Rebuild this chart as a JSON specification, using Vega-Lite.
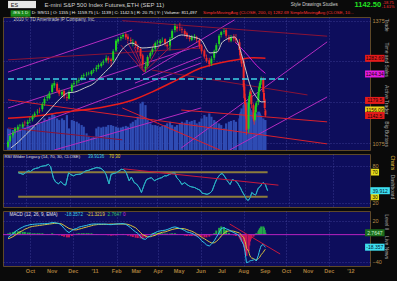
{
  "$schema": "https://vega.github.io/schema/vega-lite/v6.json",
  "background": "#0a0a0a",
  "padding": {"left": 2, "top": 0, "right": 1, "bottom": 8},
  "spacing": 2,
  "resolve": {"scale": {"fill": "independent", "stroke": "independent", "color": "independent"}},
  "config": {
    "font": "Liberation Sans",
    "view": {"stroke": "#5e4828", "strokeWidth": 1, "fill": "#0d0d5c"},
    "axis": {"labelFont": "Liberation Sans", "labelColor": "#b88e4a", "labelFontSize": 5.5, "ticks": false, "domain": false, "grid": true, "gridColor": "#45459c", "gridDash": [1, 2], "gridWidth": 0.8, "labelPadding": 2, "title": null}
  },
  "datasets": {
    "px": [
      {"d":"2010-08-30","o":1066,"h":1082,"l":1062,"c":1078,"v":1300,"m":-4.4,"s":-6,"hd":1.6},
      {"d":"2010-09-02","o":1080,"h":1095,"l":1076,"c":1092,"v":1250,"m":-2,"s":-5,"hd":3},
      {"d":"2010-09-06","o":1094,"h":1104,"l":1088,"c":1100,"v":1200,"m":1,"s":-3,"hd":4},
      {"d":"2010-09-09","o":1104,"h":1114,"l":1098,"c":1110,"v":1350,"m":4.5,"s":-1,"hd":5},
      {"d":"2010-09-13","o":1108,"h":1120,"l":1104,"c":1115,"v":1300,"m":7,"s":2,"hd":5},
      {"d":"2010-09-16","o":1117,"h":1122,"l":1110,"c":1118,"v":1250,"m":9,"s":4,"hd":5},
      {"d":"2010-09-20","o":1115,"h":1126,"l":1112,"c":1121,"v":1400,"r":69.2,"m":11,"s":6,"hd":4},
      {"d":"2010-09-23","o":1125,"h":1130,"l":1116,"c":1124,"v":1350,"r":68,"m":12.5,"s":8,"hd":4},
      {"d":"2010-09-27","o":1122,"h":1132,"l":1118,"c":1127,"v":1500,"r":66.5,"m":13.5,"s":9.5,"hd":3},
      {"d":"2010-09-30","o":1130,"h":1138,"l":1124,"c":1131,"v":1450,"r":69,"m":14.5,"s":11,"hd":3},
      {"d":"2010-10-04","o":1133,"h":1145,"l":1128,"c":1140,"v":1500,"r":72,"m":15,"s":12,"hd":2},
      {"d":"2010-10-07","o":1142,"h":1152,"l":1137,"c":1147,"v":1400,"r":71,"m":15.3,"s":12.5,"hd":2},
      {"d":"2010-10-11","o":1150,"h":1158,"l":1144,"c":1152,"v":1550,"r":74.6,"m":15.6,"s":13,"hd":2},
      {"d":"2010-10-14","o":1156,"h":1162,"l":1148,"c":1155,"v":1600,"r":76,"m":15.8,"s":13.5,"hd":2},
      {"d":"2010-10-18","o":1158,"h":1175,"l":1152,"c":1170,"v":1700,"r":77,"m":16,"s":14,"hd":2},
      {"d":"2010-10-21","o":1172,"h":1188,"l":1166,"c":1183,"v":1900,"r":79,"m":16,"s":14.5,"hd":1},
      {"d":"2010-10-25","o":1186,"h":1194,"l":1178,"c":1189,"v":1800,"r":80,"m":16.1,"s":15,"hd":1},
      {"d":"2010-10-28","o":1185,"h":1202,"l":1182,"c":1197,"v":2000,"r":80.5,"m":16.8,"s":15.5,"hd":1},
      {"d":"2010-11-01","o":1200,"h":1222,"l":1195,"c":1218,"v":2200,"r":82.7,"m":17.6,"s":16,"hd":2},
      {"d":"2010-11-04","o":1216,"h":1228,"l":1210,"c":1222,"v":2100,"r":79,"m":17.6,"s":16.5,"hd":1},
      {"d":"2010-11-08","o":1220,"h":1224,"l":1198,"c":1203,"v":1900,"r":60,"m":16.8,"s":16.6,"hd":-0.5},
      {"d":"2010-11-11","o":1205,"h":1210,"l":1190,"c":1196,"v":1800,"r":54,"m":16,"s":16.4,"hd":-1},
      {"d":"2010-11-15","o":1194,"h":1206,"l":1188,"c":1200,"v":1900,"r":51,"m":13,"s":15.5,"hd":-2},
      {"d":"2010-11-18","o":1203,"h":1205,"l":1184,"c":1190,"v":1800,"r":55,"m":9,"s":13.5,"hd":-3},
      {"d":"2010-11-22","o":1188,"h":1195,"l":1178,"c":1186,"v":2100,"r":50,"m":5,"s":11,"hd":-4},
      {"d":"2010-11-25","o":1184,"h":1204,"l":1182,"c":1200,"v":1300,"r":49,"m":3,"s":9,"hd":-4},
      {"d":"2010-11-29","o":1202,"h":1222,"l":1198,"c":1218,"v":1800,"r":69,"m":6,"s":8,"hd":-2},
      {"d":"2010-12-02","o":1220,"h":1228,"l":1212,"c":1222,"v":1750,"r":66,"m":8,"s":7,"hd":1},
      {"d":"2010-12-06","o":1224,"h":1230,"l":1216,"c":1226,"v":1700,"r":64,"m":9,"s":7,"hd":1.5},
      {"d":"2010-12-09","o":1228,"h":1235,"l":1222,"c":1230,"v":1600,"r":66,"m":11,"s":8,"hd":2},
      {"d":"2010-12-13","o":1232,"h":1242,"l":1228,"c":1237,"v":1500,"r":66.5,"m":12,"s":9,"hd":2},
      {"d":"2010-12-16","o":1240,"h":1246,"l":1234,"c":1242,"v":1400,"r":67,"m":12.7,"s":10,"hd":2},
      {"d":"2010-12-20","o":1243,"h":1249,"l":1238,"c":1244,"v":1000,"r":70,"m":13.5,"s":11,"hd":2},
      {"d":"2010-12-23","o":1246,"h":1250,"l":1241,"c":1247,"v":850,"r":72,"m":14.5,"s":12,"hd":2},
      {"d":"2010-12-27","o":1244,"h":1254,"l":1240,"c":1251,"v":750,"r":73,"m":15.3,"s":13,"hd":2},
      {"d":"2010-12-30","o":1252,"h":1258,"l":1247,"c":1254,"v":800,"r":74.6,"m":15.6,"s":14,"hd":1},
      {"d":"2011-01-03","o":1256,"h":1266,"l":1250,"c":1260,"v":1300,"r":76,"m":15.6,"s":14.5,"hd":1},
      {"d":"2011-01-06","o":1262,"h":1270,"l":1256,"c":1266,"v":1400,"r":77.3,"m":15.6,"s":15,"hd":0.5},
      {"d":"2011-01-10","o":1264,"h":1274,"l":1260,"c":1270,"v":1350,"r":77,"m":15.5,"s":15,"hd":0.3},
      {"d":"2011-01-13","o":1272,"h":1280,"l":1266,"c":1275,"v":1400,"r":76,"m":15.6,"s":15,"hd":0.3},
      {"d":"2011-01-17","o":1277,"h":1290,"l":1272,"c":1283,"v":1400,"r":72,"m":15.3,"s":15.2,"hd":-0.5},
      {"d":"2011-01-20","o":1284,"h":1288,"l":1270,"c":1278,"v":1500,"r":66,"m":14.8,"s":15.3,"hd":-1},
      {"d":"2011-01-24","o":1280,"h":1284,"l":1262,"c":1276,"v":1500,"r":51,"m":14.6,"s":15.5,"hd":-1.5},
      {"d":"2011-01-27","o":1278,"h":1305,"l":1274,"c":1300,"v":1450,"r":66.5,"m":15,"s":15.5,"hd":-1},
      {"d":"2011-01-31","o":1302,"h":1330,"l":1298,"c":1326,"v":1400,"r":68,"m":15.5,"s":15.5,"hd":-1},
      {"d":"2011-02-03","o":1324,"h":1335,"l":1318,"c":1330,"v":1350,"r":69,"m":15.8,"s":15.5,"hd":-0.5},
      {"d":"2011-02-07","o":1332,"h":1340,"l":1326,"c":1335,"v":1350,"r":72,"m":16,"s":15.5,"hd":0.5},
      {"d":"2011-02-10","o":1336,"h":1345,"l":1330,"c":1340,"v":1400,"r":74.6,"m":16.1,"s":15.5,"hd":1},
      {"d":"2011-02-14","o":1342,"h":1346,"l":1328,"c":1334,"v":1450,"r":74,"m":15,"s":15.5,"hd":-0.5},
      {"d":"2011-02-17","o":1336,"h":1342,"l":1324,"c":1330,"v":1400,"r":69,"m":13,"s":15,"hd":-1.5},
      {"d":"2011-02-21","o":1328,"h":1334,"l":1318,"c":1325,"v":1600,"r":56,"m":10,"s":13.5,"hd":-2.5},
      {"d":"2011-02-24","o":1320,"h":1330,"l":1312,"c":1322,"v":1700,"r":62,"m":7,"s":12,"hd":-3.5},
      {"d":"2011-02-28","o":1324,"h":1326,"l":1308,"c":1313,"v":1800,"r":53,"m":4,"s":10,"hd":-4.5},
      {"d":"2011-03-03","o":1310,"h":1318,"l":1298,"c":1305,"v":2000,"r":51,"m":2,"s":7,"hd":-5},
      {"d":"2011-03-07","o":1306,"h":1310,"l":1282,"c":1288,"v":2800,"r":45,"m":-3,"s":3,"hd":-5.5},
      {"d":"2011-03-10","o":1290,"h":1294,"l":1260,"c":1268,"v":2900,"r":37,"m":-6,"s":0,"hd":-6},
      {"d":"2011-03-14","o":1258,"h":1274,"l":1249,"c":1262,"v":2700,"r":50,"m":-6.9,"s":-2,"hd":-4.5},
      {"d":"2011-03-17","o":1264,"h":1290,"l":1260,"c":1286,"v":1800,"r":58,"m":-4,"s":-3,"hd":-1},
      {"d":"2011-03-21","o":1288,"h":1300,"l":1282,"c":1296,"v":1600,"r":60,"m":-2,"s":-3,"hd":1},
      {"d":"2011-03-24","o":1298,"h":1310,"l":1292,"c":1305,"v":1500,"r":61,"m":1,"s":-2,"hd":2},
      {"d":"2011-03-28","o":1306,"h":1324,"l":1300,"c":1320,"v":1500,"r":56,"m":3,"s":-1,"hd":2.5},
      {"d":"2011-03-31","o":1322,"h":1328,"l":1316,"c":1323,"v":1450,"r":58,"m":4.5,"s":1,"hd":2.5},
      {"d":"2011-04-04","o":1320,"h":1330,"l":1316,"c":1326,"v":1400,"r":60,"m":5.5,"s":2.5,"hd":2.5},
      {"d":"2011-04-07","o":1328,"h":1334,"l":1322,"c":1328,"v":1450,"r":61,"m":6,"s":3.5,"hd":2},
      {"d":"2011-04-11","o":1330,"h":1332,"l":1312,"c":1318,"v":1500,"r":64,"m":6.5,"s":4,"hd":1.5},
      {"d":"2011-04-14","o":1316,"h":1322,"l":1306,"c":1312,"v":1600,"r":64,"m":7.5,"s":5,"hd":1.5},
      {"d":"2011-04-18","o":1314,"h":1335,"l":1302,"c":1330,"v":1700,"r":66.5,"m":9,"s":6.5,"hd":1.5},
      {"d":"2011-04-21","o":1332,"h":1354,"l":1328,"c":1350,"v":1500,"r":68,"m":10.5,"s":7.5,"hd":2},
      {"d":"2011-04-25","o":1352,"h":1368,"l":1346,"c":1362,"v":1400,"r":69,"m":11.3,"s":8.5,"hd":2},
      {"d":"2011-04-28","o":1360,"h":1364,"l":1348,"c":1356,"v":1500,"r":61,"m":10.5,"s":9,"hd":1},
      {"d":"2011-05-02","o":1358,"h":1370,"l":1350,"c":1357,"v":1600,"r":56,"m":9,"s":9,"hd":-0.3},
      {"d":"2011-05-05","o":1354,"h":1360,"l":1344,"c":1352,"v":1700,"r":50,"m":8,"s":9,"hd":-0.5},
      {"d":"2011-05-09","o":1350,"h":1355,"l":1336,"c":1342,"v":1650,"r":53,"m":6,"s":8.5,"hd":-1.5},
      {"d":"2011-05-12","o":1344,"h":1348,"l":1330,"c":1335,"v":1800,"r":50,"m":4,"s":7.5,"hd":-2},
      {"d":"2011-05-16","o":1334,"h":1340,"l":1324,"c":1330,"v":1700,"r":47,"m":3,"s":6,"hd":-2},
      {"d":"2011-05-19","o":1328,"h":1340,"l":1325,"c":1335,"v":1750,"r":46,"m":2,"s":5,"hd":-2},
      {"d":"2011-05-23","o":1336,"h":1342,"l":1328,"c":1337,"v":1800,"r":45,"m":0,"s":3,"hd":-2},
      {"d":"2011-05-26","o":1334,"h":1338,"l":1322,"c":1330,"v":1600,"r":43,"m":-2,"s":1,"hd":-2.5},
      {"d":"2011-05-30","o":1328,"h":1332,"l":1306,"c":1312,"v":1700,"r":41,"m":-5,"s":-1,"hd":-3},
      {"d":"2011-06-02","o":1314,"h":1318,"l":1294,"c":1300,"v":1900,"r":36,"m":-9,"s":-4,"hd":-3.5},
      {"d":"2011-06-06","o":1302,"h":1306,"l":1282,"c":1287,"v":2100,"r":35,"m":-12,"s":-6,"hd":-4},
      {"d":"2011-06-09","o":1284,"h":1292,"l":1272,"c":1276,"v":2000,"r":34,"m":-15,"s":-8,"hd":-4},
      {"d":"2011-06-13","o":1278,"h":1284,"l":1262,"c":1268,"v":2200,"r":36,"m":-16.6,"s":-10.5,"hd":-3},
      {"d":"2011-06-16","o":1270,"h":1288,"l":1264,"c":1282,"v":2000,"r":39.5,"m":-14,"s":-12,"hd":-1},
      {"d":"2011-06-20","o":1284,"h":1304,"l":1278,"c":1300,"v":1800,"r":52,"m":-9,"s":-12,"hd":2},
      {"d":"2011-06-23","o":1302,"h":1320,"l":1294,"c":1315,"v":1700,"r":60,"m":-4,"s":-10,"hd":6},
      {"d":"2011-06-27","o":1318,"h":1342,"l":1312,"c":1338,"v":1600,"r":66,"m":3,"s":-6,"hd":10},
      {"d":"2011-06-30","o":1340,"h":1350,"l":1334,"c":1347,"v":1500,"r":68,"m":9,"s":-2,"hd":12},
      {"d":"2011-07-04","o":1348,"h":1356,"l":1342,"c":1350,"v":1300,"r":62,"m":10.2,"s":2,"hd":11},
      {"d":"2011-07-07","o":1352,"h":1356,"l":1332,"c":1338,"v":1600,"r":56,"m":8.5,"s":4.5,"hd":7},
      {"d":"2011-07-11","o":1334,"h":1340,"l":1322,"c":1328,"v":1700,"r":50,"m":7,"s":5.5,"hd":2.5},
      {"d":"2011-07-14","o":1326,"h":1340,"l":1322,"c":1334,"v":1750,"r":58,"m":5,"s":5.5,"hd":0},
      {"d":"2011-07-18","o":1336,"h":1342,"l":1324,"c":1331,"v":1800,"r":56,"m":3,"s":5,"hd":-1},
      {"d":"2011-07-21","o":1332,"h":1342,"l":1320,"c":1327,"v":1700,"r":53,"m":1.5,"s":4,"hd":-2},
      {"d":"2011-07-26","o":1322,"h":1330,"l":1298,"c":1303,"v":1900,"r":43,"m":-2,"s":2.5,"hd":-4},
      {"d":"2011-07-27","o":1302,"h":1306,"l":1284,"c":1290,"v":2200,"r":40,"m":-4,"s":1.5,"hd":-6},
      {"d":"2011-07-28","o":1290,"h":1298,"l":1278,"c":1282,"v":2300,"r":38,"m":-6,"s":0.5,"hd":-8},
      {"d":"2011-07-29","o":1284,"h":1292,"l":1262,"c":1270,"v":2500,"r":36,"m":-9,"s":-1,"hd":-10},
      {"d":"2011-08-01","o":1276,"h":1282,"l":1204,"c":1212,"v":2700,"r":30,"m":-15,"s":-4,"hd":-14},
      {"d":"2011-08-02","o":1214,"h":1222,"l":1180,"c":1185,"v":2800,"r":27,"m":-20,"s":-7,"hd":-18},
      {"d":"2011-08-03","o":1186,"h":1196,"l":1164,"c":1170,"v":2900,"r":26,"m":-25,"s":-10,"hd":-22},
      {"d":"2011-08-04","o":1172,"h":1176,"l":1134,"c":1140,"v":2900,"r":25,"m":-33,"s":-14,"hd":-27},
      {"d":"2011-08-05","o":1142,"h":1160,"l":1095,"c":1107,"v":2900,"r":24,"m":-41,"s":-20,"hd":-31},
      {"d":"2011-08-08","o":1110,"h":1182,"l":1100,"c":1175,"v":2800,"r":29,"m":-40,"s":-24,"hd":-24},
      {"d":"2011-08-09","o":1172,"h":1196,"l":1160,"c":1190,"v":2600,"r":33,"m":-39,"s":-28,"hd":-16},
      {"d":"2011-08-10","o":1188,"h":1206,"l":1176,"c":1200,"v":2500,"r":37,"m":-38.5,"s":-31,"hd":-10},
      {"d":"2011-08-11","o":1202,"h":1208,"l":1180,"c":1195,"v":2400,"r":36,"m":-38,"s":-33,"hd":-7},
      {"d":"2011-08-12","o":1192,"h":1198,"l":1160,"c":1170,"v":2300,"r":35,"m":-38,"s":-34,"hd":-5},
      {"d":"2011-08-15","o":1168,"h":1172,"l":1128,"c":1135,"v":2200,"r":33,"m":-37,"s":-35,"hd":-3},
      {"d":"2011-08-16","o":1138,"h":1145,"l":1120,"c":1131,"v":2200,"r":34,"m":-36,"s":-36,"hd":-1},
      {"d":"2011-08-17","o":1132,"h":1156,"l":1128,"c":1150,"v":2100,"r":38,"m":-36,"s":-37,"hd":1},
      {"d":"2011-08-18","o":1150,"h":1170,"l":1140,"c":1165,"v":2100,"r":41,"m":-37,"s":-37,"hd":1},
      {"d":"2011-08-19","o":1164,"h":1178,"l":1150,"c":1173,"v":2200,"r":44,"m":-38.6,"s":-37,"hd":2},
      {"d":"2011-08-22","o":1175,"h":1206,"l":1168,"c":1200,"v":2300,"r":47,"m":-30,"s":-35,"hd":5},
      {"d":"2011-08-23","o":1202,"h":1216,"l":1192,"c":1212,"v":2300,"r":49,"m":-26,"s":-34,"hd":7},
      {"d":"2011-08-24","o":1210,"h":1226,"l":1200,"c":1222,"v":2200,"r":51,"m":-22,"s":-33,"hd":9},
      {"d":"2011-08-25","o":1224,"h":1232,"l":1210,"c":1226,"v":2100,"r":52,"m":-19,"s":-31,"hd":10},
      {"d":"2011-08-26","o":1228,"h":1238,"l":1218,"c":1230,"v":2000,"r":53,"m":-16,"s":-29,"hd":12},
      {"d":"2011-08-29","o":1232,"h":1236,"l":1196,"c":1200,"v":1900,"r":50,"m":-14.2,"s":-26,"hd":12},
      {"d":"2011-08-30","o":1198,"h":1204,"l":1176,"c":1180,"v":1800,"r":46,"m":-16,"s":-24,"hd":10},
      {"d":"2011-08-31","o":1182,"h":1186,"l":1156,"c":1161,"v":1800,"r":43,"m":-17.5,"s":-22.5,"hd":7},
      {"d":"2011-09-01","o":1155,"h":1159,"l":1139,"c":1142.5,"v":1800,"r":40,"m":-18.4,"s":-21.3,"hd":2.8}
    ],
    "ma": [
      {"d":"2010-09-03","p":1063},{"d":"2010-09-14","p":1078},{"d":"2010-09-24","p":1095},{"d":"2010-10-08","p":1119},
      {"d":"2010-10-22","p":1144},{"d":"2010-11-01","p":1163},{"d":"2010-11-15","p":1188},{"d":"2010-11-23","p":1198},
      {"d":"2010-12-03","p":1200},{"d":"2010-12-17","p":1210},{"d":"2010-12-31","p":1222},{"d":"2011-01-13","p":1245},
      {"d":"2011-01-26","p":1268},{"d":"2011-02-09","p":1305},{"d":"2011-02-23","p":1320},{"d":"2011-03-09","p":1308},
      {"d":"2011-03-23","p":1310},{"d":"2011-04-06","p":1315},{"d":"2011-04-20","p":1328},{"d":"2011-05-04","p":1340},
      {"d":"2011-05-18","p":1336},{"d":"2011-06-01","p":1328},{"d":"2011-06-14","p":1296},{"d":"2011-06-24","p":1298},
      {"d":"2011-07-02","p":1323},{"d":"2011-07-19","p":1335},{"d":"2011-07-30","p":1286},{"d":"2011-08-04","p":1254},
      {"d":"2011-08-11","p":1213},{"d":"2011-08-19","p":1188},{"d":"2011-08-26","p":1176},{"d":"2011-09-01","p":1176}
    ],
    "s200": [
      {"d":"2010-08-30","p":1136},{"d":"2010-10-08","p":1141},{"d":"2010-11-18","p":1151},{"d":"2011-01-12","p":1163},
      {"d":"2011-02-23","p":1180},{"d":"2011-03-23","p":1200},{"d":"2011-04-28","p":1230},{"d":"2011-06-01","p":1259},
      {"d":"2011-06-29","p":1272},{"d":"2011-07-25","p":1280},{"d":"2011-08-15","p":1284},{"d":"2011-09-01","p":1283}
    ],
    "s50": [
      {"d":"2011-07-20","p":1322},{"d":"2011-07-30","p":1305},{"d":"2011-08-08","p":1288},{"d":"2011-08-19","p":1266},{"d":"2011-09-01","p":1246}
    ],
    "tl": [
      {"a":"2010-08-30","p1":1249,"b":"2011-02-23","p2":1352,"k":"mag"},
      {"a":"2010-08-30","p1":1161,"b":"2011-06-01","p2":1315,"k":"mag"},
      {"a":"2010-08-30","p1":1095,"b":"2011-06-01","p2":1271,"k":"mag"},
      {"a":"2010-11-04","p1":1058,"b":"2011-06-01","p2":1161,"k":"mag"},
      {"a":"2011-03-09","p1":1242,"b":"2011-07-19","p2":1377,"k":"mag"},
      {"a":"2011-05-04","p1":1063,"b":"2011-11-28","p2":1323,"k":"mag"},
      {"a":"2011-07-12","p1":1058,"b":"2011-11-28","p2":1188,"k":"mag"},
      {"a":"2011-02-27","p1":1222,"b":"2011-06-01","p2":1286,"k":"mag"},
      {"a":"2011-02-09","p1":1375,"b":"2011-11-28","p2":1337,"k":"dark"},
      {"a":"2010-08-30","p1":1279,"b":"2011-06-01","p2":1308,"k":"dark"},
      {"a":"2010-08-30","p1":1181,"b":"2011-11-28","p2":1073,"k":"red"},
      {"a":"2011-05-04","p1":1156,"b":"2011-11-28","p2":1127,"k":"red"},
      {"a":"2010-08-30","p1":1112,"b":"2011-02-09","p2":1083,"k":"dark"},
      {"a":"2011-03-23","p1":1254,"b":"2011-10-31","p2":1193,"k":"dark"},
      {"a":"2011-02-09","p1":1161,"b":"2011-06-28","p2":1058,"k":"red"},
      {"a":"2011-03-12","p1":1249,"b":"2011-02-07","p2":1315,"k":"fan"},
      {"a":"2011-03-12","p1":1249,"b":"2011-02-16","p2":1323,"k":"fan"},
      {"a":"2011-03-12","p1":1249,"b":"2011-02-26","p2":1310,"k":"fan"},
      {"a":"2011-03-12","p1":1249,"b":"2011-03-26","p2":1318,"k":"fan"},
      {"a":"2011-03-12","p1":1249,"b":"2011-04-06","p2":1323,"k":"fan"},
      {"a":"2011-03-12","p1":1249,"b":"2011-04-20","p2":1313,"k":"fan"}
    ],
    "pb": [
      {"p":1282.69,"t":"1282.69","s":"sma200"},
      {"p":1244.34,"t":"1244.34","s":"sma50"},
      {"p":1179.5,"t":"1179.5","s":"hi"},
      {"p":1156.09,"t":"1156.09","s":"ma"},
      {"p":1142.5,"t":"1142.5","s":"last"}
    ],
    "rb": [
      {"v":70,"t":"70","s":"lvl"},
      {"v":30,"t":"30","s":"lvl"},
      {"v":39.912,"t":"39.912","s":"rsi"}
    ],
    "mb": [
      {"v":2.7647,"t":"2.7647","s":"diff"},
      {"v":-18.357,"t":"-18.357","s":"macd"}
    ],
    "months": [
      {"d":"2010-10-01","t":"Oct"},{"d":"2010-11-01","t":"Nov"},{"d":"2010-12-01","t":"Dec"},{"d":"2011-01-01","t":"'11"},
      {"d":"2011-02-01","t":"Feb"},{"d":"2011-03-01","t":"Mar"},{"d":"2011-04-01","t":"Apr"},{"d":"2011-05-01","t":"May"},
      {"d":"2011-06-01","t":"Jun"},{"d":"2011-07-01","t":"Jul"},{"d":"2011-08-01","t":"Aug"},{"d":"2011-09-01","t":"Sep"},
      {"d":"2011-10-01","t":"Oct"},{"d":"2011-11-01","t":"Nov"},{"d":"2011-12-01","t":"Dec"},{"d":"2012-01-01","t":"'12"}
    ],
    "tabs1": [
      {"p":1364,"t":"Trade"},
      {"p":1279,"t":"Time and Sales"},
      {"p":1181,"t":"Active Trader"},
      {"p":1097,"t":"Big Buttons"}
    ],
    "tabs2": [
      {"v":84.9,"t":"Charts"},
      {"v":46,"t":"Dashboard"}
    ],
    "tabs3": [
      {"v":18,"t":"Level II"},
      {"v":-19,"t":"Live News"}
    ]
  },
  "vconcat": [
    {
      "width": 367,
      "height": 133,
      "layer": [
        {
          "data": {"name": "px"},
          "mark": {"type": "bar", "width": 2.2, "color": "#2f4cb4"},
          "encoding": {
            "x": {"field": "d", "type": "temporal",
              "scale": {"domain": [{"year": 2010, "month": 8, "date": 30}, {"year": 2012, "month": 1, "date": 21}]},
              "axis": {"labels": false, "grid": true, "labelPadding": 0, "values": [{"year":2010,"month":10,"date":1},{"year":2010,"month":11,"date":1},{"year":2010,"month":12,"date":1},{"year":2011,"month":1,"date":1},{"year":2011,"month":2,"date":1},{"year":2011,"month":3,"date":1},{"year":2011,"month":4,"date":1},{"year":2011,"month":5,"date":1},{"year":2011,"month":6,"date":1},{"year":2011,"month":7,"date":1},{"year":2011,"month":8,"date":1},{"year":2011,"month":9,"date":1},{"year":2011,"month":10,"date":1},{"year":2011,"month":11,"date":1},{"year":2011,"month":12,"date":1},{"year":2012,"month":1,"date":1}]}},
            "y": {"field": "v", "type": "quantitative", "scale": {"domain": [0, 8000]}, "axis": null}
          }
        },
        {
          "layer": [
            {
              "data": {"name": "tl"},
              "mark": {"type": "rule", "strokeWidth": 1, "clip": true},
              "encoding": {
                "x": {"field": "a", "type": "temporal"},
                "x2": {"field": "b"},
                "y": {"field": "p1", "type": "quantitative", "scale": {"domain": [1058, 1384], "nice": false, "zero": false},
                  "axis": {"orient": "right", "grid": true, "format": "d", "labelExpr": "indexof([1150, 1175, 1250, 1275], datum.value) >= 0 ? '' : datum.label", "values": [1075,1100,1125,1150,1175,1200,1225,1250,1275,1300,1325,1350,1375]}},
                "y2": {"field": "p2"},
                "stroke": {"field": "k", "type": "nominal", "scale": {"domain": ["mag","red","dark","fan"], "range": ["#b42cc0","#d8202c","#8a1236","#a01848"]}, "legend": null}
              }
            },
            {
              "data": {"name": "s200"},
              "mark": {"type": "line", "color": "#e81c1c", "strokeWidth": 1.5, "interpolate": "monotone"},
              "encoding": {"x": {"field": "d", "type": "temporal"}, "y": {"field": "p", "type": "quantitative"}}
            },
            {
              "data": {"name": "s50"},
              "mark": {"type": "line", "color": "#d020d8", "strokeWidth": 1, "interpolate": "monotone"},
              "encoding": {"x": {"field": "d", "type": "temporal"}, "y": {"field": "p", "type": "quantitative"}}
            },
            {
              "data": {"name": "px"},
              "mark": {"type": "rule", "strokeWidth": 0.8},
              "encoding": {
                "x": {"field": "d", "type": "temporal"},
                "y": {"field": "l", "type": "quantitative"},
                "y2": {"field": "h"},
                "color": {"condition": {"test": "datum.c >= datum.o", "value": "#1fd21f"}, "value": "#f02828"}
              }
            },
            {
              "data": {"name": "px"},
              "mark": {"type": "bar", "width": 2},
              "encoding": {
                "x": {"field": "d", "type": "temporal"},
                "y": {"field": "o", "type": "quantitative"},
                "y2": {"field": "c"},
                "color": {"condition": {"test": "datum.c >= datum.o", "value": "#1fd21f"}, "value": "#f02828"}
              }
            },
            {
              "data": {"name": "ma"},
              "mark": {"type": "line", "color": "#c8c8c8", "strokeWidth": 1, "interpolate": "monotone"},
              "encoding": {"x": {"field": "d", "type": "temporal"}, "y": {"field": "p", "type": "quantitative"}}
            },
            {
              "data": {"values": [{}]},
              "mark": {"type": "rule", "color": "#3cd2e6", "strokeWidth": 1.5, "strokeDash": [6, 3]},
              "encoding": {
                "x": {"datum": {"year": 2010, "month": 8, "date": 30}, "type": "temporal"},
                "x2": {"datum": {"year": 2011, "month": 10, "date": 3}},
                "y": {"datum": 1232, "type": "quantitative"}
              }
            },
            {
              "data": {"name": "pb"},
              "mark": {"type": "point", "shape": "M-1,-0.36H1V0.36H-1Z", "size": 380, "filled": true, "opacity": 1, "clip": false},
              "encoding": {
                "x": {"datum": {"year": 2012, "month": 2, "date": 4}, "type": "temporal"},
                "y": {"field": "p", "type": "quantitative"},
                "fill": {"field": "s", "type": "nominal", "scale": {"domain": ["sma200","sma50","hi","ma","last"], "range": ["#e41b1b","#e21ce0","#e41b1b","#e8d21a","#e41b1b"]}, "legend": null}
              }
            },
            {
              "data": {"name": "pb"},
              "mark": {"type": "text", "fontSize": 5, "color": "#200000", "align": "center", "baseline": "middle", "clip": false},
              "encoding": {
                "x": {"datum": {"year": 2012, "month": 2, "date": 4}, "type": "temporal"},
                "y": {"field": "p", "type": "quantitative"},
                "text": {"field": "t"}
              }
            },
            {
              "data": {"name": "tabs1"},
              "mark": {"type": "text", "fontSize": 5, "color": "#a8a8a8", "angle": 90, "align": "center", "baseline": "middle", "clip": false},
              "encoding": {
                "x": {"datum": {"year": 2012, "month": 2, "date": 22}, "type": "temporal"},
                "y": {"field": "p", "type": "quantitative"},
                "text": {"field": "t"}
              }
            },
            {
              "data": {"values": [{"t": "2010 © TD Ameritrade IP Company, Inc."}]},
              "mark": {"type": "text", "fontSize": 4.6, "color": "#c8c8c8", "align": "left", "baseline": "middle"},
              "encoding": {
                "x": {"datum": {"year": 2010, "month": 9, "date": 7}, "type": "temporal"},
                "y": {"datum": 1376.5, "type": "quantitative"},
                "text": {"field": "t"}
              }
            },
            {
              "data": {"values": [{}]},
              "mark": {"type": "point", "shape": "M-1,-0.26H1V0.26H-1Z", "size": 784, "filled": true, "opacity": 1, "color": "#e6e6e6", "clip": false},
              "encoding": {
                "x": {"datum": {"year": 2010, "month": 9, "date": 19}, "type": "temporal"},
                "y": {"datum": 1414.6, "type": "quantitative"}
              }
            },
            {
              "data": {"values": [{"t": "ES"}]},
              "mark": {"type": "text", "fontSize": 5.5, "color": "#101010", "align": "left", "baseline": "middle", "clip": false},
              "encoding": {
                "x": {"datum": {"year": 2010, "month": 9, "date": 3}, "type": "temporal"},
                "y": {"datum": 1414.6, "type": "quantitative"},
                "text": {"field": "t"}
              }
            },
            {
              "data": {"values": [{"t": "E-mini S&P 500 Index Futures,ETH (SEP 11)"}]},
              "mark": {"type": "text", "fontSize": 6, "color": "#cfcfcf", "align": "left", "baseline": "middle", "clip": false},
              "encoding": {
                "x": {"datum": {"year": 2010, "month": 10, "date": 21}, "type": "temporal"},
                "y": {"datum": 1414.6, "type": "quantitative"},
                "text": {"field": "t"}
              }
            },
            {
              "data": {"values": [{}]},
              "mark": {"type": "point", "shape": "M-1,-0.32H1V0.32H-1Z", "size": 400, "filled": true, "opacity": 1, "color": "#1a8a1a", "clip": false},
              "encoding": {
                "x": {"datum": {"year": 2010, "month": 9, "date": 17}, "type": "temporal"},
                "y": {"datum": 1392.6, "type": "quantitative"}
              }
            },
            {
              "data": {"values": [{"t": "/ES 1 D"}]},
              "mark": {"type": "text", "fontSize": 4.4, "color": "#e8ffe8", "align": "center", "baseline": "middle", "clip": false},
              "encoding": {
                "x": {"datum": {"year": 2010, "month": 9, "date": 17}, "type": "temporal"},
                "y": {"datum": 1392.6, "type": "quantitative"},
                "text": {"field": "t"}
              }
            },
            {
              "data": {"values": [{"t": "D: 9/9/11  |  O: 1155  |  H: 1159.75  |  L: 1139  |  C: 1142.5  |  R: 20.75  |  Y:  |  Volume: 811,497"}]},
              "mark": {"type": "text", "fontSize": 4.4, "color": "#f0f0f0", "align": "left", "baseline": "middle", "clip": false},
              "encoding": {
                "x": {"datum": {"year": 2010, "month": 10, "date": 3}, "type": "temporal"},
                "y": {"datum": 1392.6, "type": "quantitative"},
                "text": {"field": "t"}
              }
            },
            {
              "data": {"values": [{"t": "SimpleMovingAvg (CLOSE, 200, 0)  1282.69   SimpleMovingAvg (CLOSE, 10..."}]},
              "mark": {"type": "text", "fontSize": 4.4, "color": "#ff3030", "align": "left", "baseline": "middle", "clip": false},
              "encoding": {
                "x": {"datum": {"year": 2011, "month": 6, "date": 4}, "type": "temporal"},
                "y": {"datum": 1392.6, "type": "quantitative"},
                "text": {"field": "t"}
              }
            },
            {
              "data": {"values": [{"t": "Style    Drawings    Studies"}]},
              "mark": {"type": "text", "fontSize": 4.6, "color": "#d0d0d0", "align": "left", "baseline": "middle", "clip": false},
              "encoding": {
                "x": {"datum": {"year": 2011, "month": 10, "date": 7}, "type": "temporal"},
                "y": {"datum": 1413, "type": "quantitative"},
                "text": {"field": "t"}
              }
            },
            {
              "data": {"values": [{"t": "1142.50"}]},
              "mark": {"type": "text", "fontSize": 7.5, "fontWeight": "bold", "color": "#22e022", "align": "center", "baseline": "middle", "clip": false},
              "encoding": {
                "x": {"datum": {"year": 2012, "month": 1, "date": 25}, "type": "temporal"},
                "y": {"datum": 1413, "type": "quantitative"},
                "text": {"field": "t"}
              }
            },
            {
              "data": {"values": [{"t": "-18.75"}]},
              "mark": {"type": "text", "fontSize": 4, "color": "#ff3030", "align": "center", "baseline": "middle", "clip": false},
              "encoding": {
                "x": {"datum": {"year": 2012, "month": 2, "date": 23}, "type": "temporal"},
                "y": {"datum": 1418, "type": "quantitative"},
                "text": {"field": "t"}
              }
            },
            {
              "data": {"values": [{"t": "-1.61%"}]},
              "mark": {"type": "text", "fontSize": 4, "color": "#ff3030", "align": "center", "baseline": "middle", "clip": false},
              "encoding": {
                "x": {"datum": {"year": 2012, "month": 2, "date": 23}, "type": "temporal"},
                "y": {"datum": 1409, "type": "quantitative"},
                "text": {"field": "t"}
              }
            }
          ]
        }
      ],
      "resolve": {"scale": {"y": "independent"}}
    },
    {
      "width": 367,
      "height": 53,
      "layer": [
        {
          "data": {"name": "px"},
          "mark": {"type": "line", "color": "#2ab0c4", "strokeWidth": 1},
          "encoding": {
            "x": {"field": "d", "type": "temporal",
              "scale": {"domain": [{"year": 2010, "month": 8, "date": 30}, {"year": 2012, "month": 1, "date": 21}]},
              "axis": {"labels": false, "grid": true, "labelPadding": 0, "values": [{"year":2010,"month":10,"date":1},{"year":2010,"month":11,"date":1},{"year":2010,"month":12,"date":1},{"year":2011,"month":1,"date":1},{"year":2011,"month":2,"date":1},{"year":2011,"month":3,"date":1},{"year":2011,"month":4,"date":1},{"year":2011,"month":5,"date":1},{"year":2011,"month":6,"date":1},{"year":2011,"month":7,"date":1},{"year":2011,"month":8,"date":1},{"year":2011,"month":9,"date":1},{"year":2011,"month":10,"date":1},{"year":2011,"month":11,"date":1},{"year":2011,"month":12,"date":1},{"year":2012,"month":1,"date":1}]}},
            "y": {"field": "r", "type": "quantitative", "scale": {"domain": [13.5, 99.4], "nice": false, "zero": false},
              "axis": {"orient": "right", "grid": true, "values": [20, 40, 60, 80], "labelExpr": "datum.value == 40 ? '' : datum.label"}}
          }
        },
        {
          "data": {"values": [{"v": 70}, {"v": 30}]},
          "mark": {"type": "rule", "color": "#8c7c3c", "strokeWidth": 2},
          "encoding": {
            "x": {"datum": {"year": 2010, "month": 9, "date": 20}, "type": "temporal"},
            "x2": {"datum": {"year": 2011, "month": 9, "date": 1}},
            "y": {"field": "v", "type": "quantitative"}
          }
        },
        {
          "data": {"name": "px"},
          "mark": {"type": "line", "color": "#2ab0c4", "strokeWidth": 1},
          "encoding": {
            "x": {"field": "d", "type": "temporal"},
            "y": {"field": "r", "type": "quantitative"}
          }
        },
        {
          "data": {"values": [{}]},
          "mark": {"type": "rule", "color": "#c8183c", "strokeWidth": 1},
          "encoding": {
            "x": {"datum": {"year": 2011, "month": 2, "date": 13}, "type": "temporal"},
            "x2": {"datum": {"year": 2011, "month": 9, "date": 16}},
            "y": {"datum": 75.4, "type": "quantitative"},
            "y2": {"datum": 48.9}
          }
        },
        {
          "data": {"name": "rb"},
          "transform": [{"filter": "datum.s == 'lvl'"}],
          "mark": {"type": "point", "shape": "M-1,-0.85H1V0.85H-1Z", "size": 64, "filled": true, "opacity": 1, "color": "#e6dc1a", "clip": false},
          "encoding": {
            "x": {"datum": {"year": 2012, "month": 1, "date": 28}, "type": "temporal"},
            "y": {"field": "v", "type": "quantitative"}
          }
        },
        {
          "data": {"name": "rb"},
          "transform": [{"filter": "datum.s == 'rsi'"}],
          "mark": {"type": "point", "shape": "M-1,-0.36H1V0.36H-1Z", "size": 380, "filled": true, "opacity": 1, "color": "#3ee0f0", "clip": false},
          "encoding": {
            "x": {"datum": {"year": 2012, "month": 2, "date": 4}, "type": "temporal"},
            "y": {"field": "v", "type": "quantitative"}
          }
        },
        {
          "data": {"name": "rb"},
          "transform": [{"filter": "datum.s == 'lvl'"}],
          "mark": {"type": "text", "fontSize": 5, "color": "#201800", "align": "center", "baseline": "middle", "clip": false},
          "encoding": {
            "x": {"datum": {"year": 2012, "month": 1, "date": 28}, "type": "temporal"},
            "y": {"field": "v", "type": "quantitative"},
            "text": {"field": "t"}
          }
        },
        {
          "data": {"name": "rb"},
          "transform": [{"filter": "datum.s == 'rsi'"}],
          "mark": {"type": "text", "fontSize": 5, "color": "#002030", "align": "center", "baseline": "middle", "clip": false},
          "encoding": {
            "x": {"datum": {"year": 2012, "month": 2, "date": 4}, "type": "temporal"},
            "y": {"field": "v", "type": "quantitative"},
            "text": {"field": "t"}
          }
        },
        {
          "data": {"name": "tabs2"},
          "mark": {"type": "text", "fontSize": 5, "angle": 90, "align": "center", "baseline": "middle", "clip": false},
          "encoding": {
            "x": {"datum": {"year": 2012, "month": 2, "date": 22}, "type": "temporal"},
            "y": {"field": "v", "type": "quantitative"},
            "text": {"field": "t"},
            "color": {"condition": {"test": "datum.t == 'Charts'", "value": "#e8c040"}, "value": "#a8a8a8"}
          }
        },
        {
          "data": {"values": [{"t": "RSI Wilder Legacy (14, 70, 30, CLOSE)"}]},
          "mark": {"type": "text", "fontSize": 4.3, "color": "#e0e0e0", "align": "left", "baseline": "middle"},
          "encoding": {
            "x": {"datum": {"year": 2010, "month": 9, "date": 1}, "type": "temporal"},
            "y": {"datum": 93.8, "type": "quantitative"},
            "text": {"field": "t"}
          }
        },
        {
          "data": {"values": [{"t": "39.9136"}]},
          "mark": {"type": "text", "fontSize": 4.5, "color": "#40d0e0", "align": "left", "baseline": "middle"},
          "encoding": {
            "x": {"datum": {"year": 2010, "month": 12, "date": 26}, "type": "temporal"},
            "y": {"datum": 93.8, "type": "quantitative"},
            "text": {"field": "t"}
          }
        },
        {
          "data": {"values": [{"t": "70   30"}]},
          "mark": {"type": "text", "fontSize": 4.5, "color": "#e6dc1a", "align": "left", "baseline": "middle"},
          "encoding": {
            "x": {"datum": {"year": 2011, "month": 1, "date": 24}, "type": "temporal"},
            "y": {"datum": 93.8, "type": "quantitative"},
            "text": {"field": "t"}
          }
        }
      ]
    },
    {
      "width": 367,
      "height": 55,
      "layer": [
        {
          "data": {"name": "px"},
          "mark": {"type": "bar", "width": 2},
          "encoding": {
            "x": {"field": "d", "type": "temporal",
              "scale": {"domain": [{"year": 2010, "month": 8, "date": 30}, {"year": 2012, "month": 1, "date": 21}]},
              "axis": {"labels": false, "grid": true, "labelPadding": 0,
                "values": [{"year":2010,"month":10,"date":1},{"year":2010,"month":11,"date":1},{"year":2010,"month":12,"date":1},{"year":2011,"month":1,"date":1},{"year":2011,"month":2,"date":1},{"year":2011,"month":3,"date":1},{"year":2011,"month":4,"date":1},{"year":2011,"month":5,"date":1},{"year":2011,"month":6,"date":1},{"year":2011,"month":7,"date":1},{"year":2011,"month":8,"date":1},{"year":2011,"month":9,"date":1},{"year":2011,"month":10,"date":1},{"year":2011,"month":11,"date":1},{"year":2011,"month":12,"date":1},{"year":2012,"month":1,"date":1}]}},
            "y": {"field": "hd", "type": "quantitative", "scale": {"domain": [-45.9, 34.6], "nice": false, "zero": false},
              "axis": {"orient": "right", "grid": true, "values": [-40, -20, 0, 20], "labelExpr": "datum.value == 0 || datum.value == -20 ? '' : datum.label"}},
            "color": {"condition": {"test": "datum.hd >= 0", "value": "#22a84a"}, "value": "#c8145a"}
          }
        },
        {
          "data": {"values": [{}]},
          "mark": {"type": "rule", "color": "#b822c0", "strokeWidth": 1},
          "encoding": {"y": {"datum": 0, "type": "quantitative"}}
        },
        {
          "data": {"name": "px"},
          "mark": {"type": "line", "color": "#d8c23c", "strokeWidth": 1},
          "encoding": {"x": {"field": "d", "type": "temporal"}, "y": {"field": "s", "type": "quantitative"}}
        },
        {
          "data": {"name": "px"},
          "mark": {"type": "line", "color": "#30c8ea", "strokeWidth": 1},
          "encoding": {"x": {"field": "d", "type": "temporal"}, "y": {"field": "m", "type": "quantitative"}}
        },
        {
          "data": {"values": [{}]},
          "mark": {"type": "rule", "color": "#c8183c", "strokeWidth": 1},
          "encoding": {
            "x": {"datum": {"year": 2011, "month": 7, "date": 12}, "type": "temporal"},
            "x2": {"datum": {"year": 2011, "month": 9, "date": 22}},
            "y": {"datum": 15.6, "type": "quantitative"},
            "y2": {"datum": -28.3}
          }
        },
        {
          "data": {"name": "mb"},
          "transform": [{"filter": "datum.s == 'diff'"}],
          "mark": {"type": "point", "shape": "M-1,-0.36H1V0.36H-1Z", "size": 380, "filled": true, "opacity": 1, "color": "#1c6e1c", "clip": false},
          "encoding": {
            "x": {"datum": {"year": 2012, "month": 2, "date": 4}, "type": "temporal"},
            "y": {"field": "v", "type": "quantitative"}
          }
        },
        {
          "data": {"name": "mb"},
          "transform": [{"filter": "datum.s == 'macd'"}],
          "mark": {"type": "point", "shape": "M-1,-0.36H1V0.36H-1Z", "size": 380, "filled": true, "opacity": 1, "color": "#3ee0f0", "clip": false},
          "encoding": {
            "x": {"datum": {"year": 2012, "month": 2, "date": 4}, "type": "temporal"},
            "y": {"field": "v", "type": "quantitative"}
          }
        },
        {
          "data": {"name": "mb"},
          "mark": {"type": "text", "fontSize": 5, "align": "center", "baseline": "middle", "clip": false},
          "encoding": {
            "x": {"datum": {"year": 2012, "month": 2, "date": 4}, "type": "temporal"},
            "y": {"field": "v", "type": "quantitative"},
            "text": {"field": "t"},
            "color": {"condition": {"test": "datum.s == 'diff'", "value": "#c8f0c8"}, "value": "#002030"}
          }
        },
        {
          "data": {"name": "months"},
          "mark": {"type": "text", "fontSize": 5.5, "fontWeight": "bold", "color": "#a67c3c", "align": "center", "baseline": "middle", "clip": false},
          "encoding": {
            "x": {"field": "d", "type": "temporal"},
            "y": {"datum": -53.2, "type": "quantitative"},
            "text": {"field": "t"}
          }
        },
        {
          "data": {"name": "tabs3"},
          "mark": {"type": "text", "fontSize": 5, "color": "#a8a8a8", "angle": 90, "align": "center", "baseline": "middle", "clip": false},
          "encoding": {
            "x": {"datum": {"year": 2012, "month": 2, "date": 22}, "type": "temporal"},
            "y": {"field": "v", "type": "quantitative"},
            "text": {"field": "t"}
          }
        },
        {
          "data": {"values": [{"t": "MACD (12, 26, 9, EMA)"}]},
          "mark": {"type": "text", "fontSize": 4.6, "color": "#e0e0e0", "align": "left", "baseline": "middle"},
          "encoding": {
            "x": {"datum": {"year": 2010, "month": 9, "date": 1}, "type": "temporal"},
            "y": {"datum": 28.8, "type": "quantitative"},
            "text": {"field": "t"}
          }
        },
        {
          "data": {"values": [{"t": "-18.3572"}]},
          "mark": {"type": "text", "fontSize": 4.6, "color": "#40d0e0", "align": "left", "baseline": "middle"},
          "encoding": {
            "x": {"datum": {"year": 2010, "month": 11, "date": 19}, "type": "temporal"},
            "y": {"datum": 28.8, "type": "quantitative"},
            "text": {"field": "t"}
          }
        },
        {
          "data": {"values": [{"t": "-21.3219"}]},
          "mark": {"type": "text", "fontSize": 4.6, "color": "#e0d040", "align": "left", "baseline": "middle"},
          "encoding": {
            "x": {"datum": {"year": 2010, "month": 12, "date": 20}, "type": "temporal"},
            "y": {"datum": 28.8, "type": "quantitative"},
            "text": {"field": "t"}
          }
        },
        {
          "data": {"values": [{"t": "2.7647"}]},
          "mark": {"type": "text", "fontSize": 4.6, "color": "#30c060", "align": "left", "baseline": "middle"},
          "encoding": {
            "x": {"datum": {"year": 2011, "month": 1, "date": 19}, "type": "temporal"},
            "y": {"datum": 28.8, "type": "quantitative"},
            "text": {"field": "t"}
          }
        },
        {
          "data": {"values": [{"t": "0"}]},
          "mark": {"type": "text", "fontSize": 4.6, "color": "#d030d8", "align": "left", "baseline": "middle"},
          "encoding": {
            "x": {"datum": {"year": 2011, "month": 2, "date": 10}, "type": "temporal"},
            "y": {"datum": 28.8, "type": "quantitative"},
            "text": {"field": "t"}
          }
        }
      ]
    }
  ]
}
